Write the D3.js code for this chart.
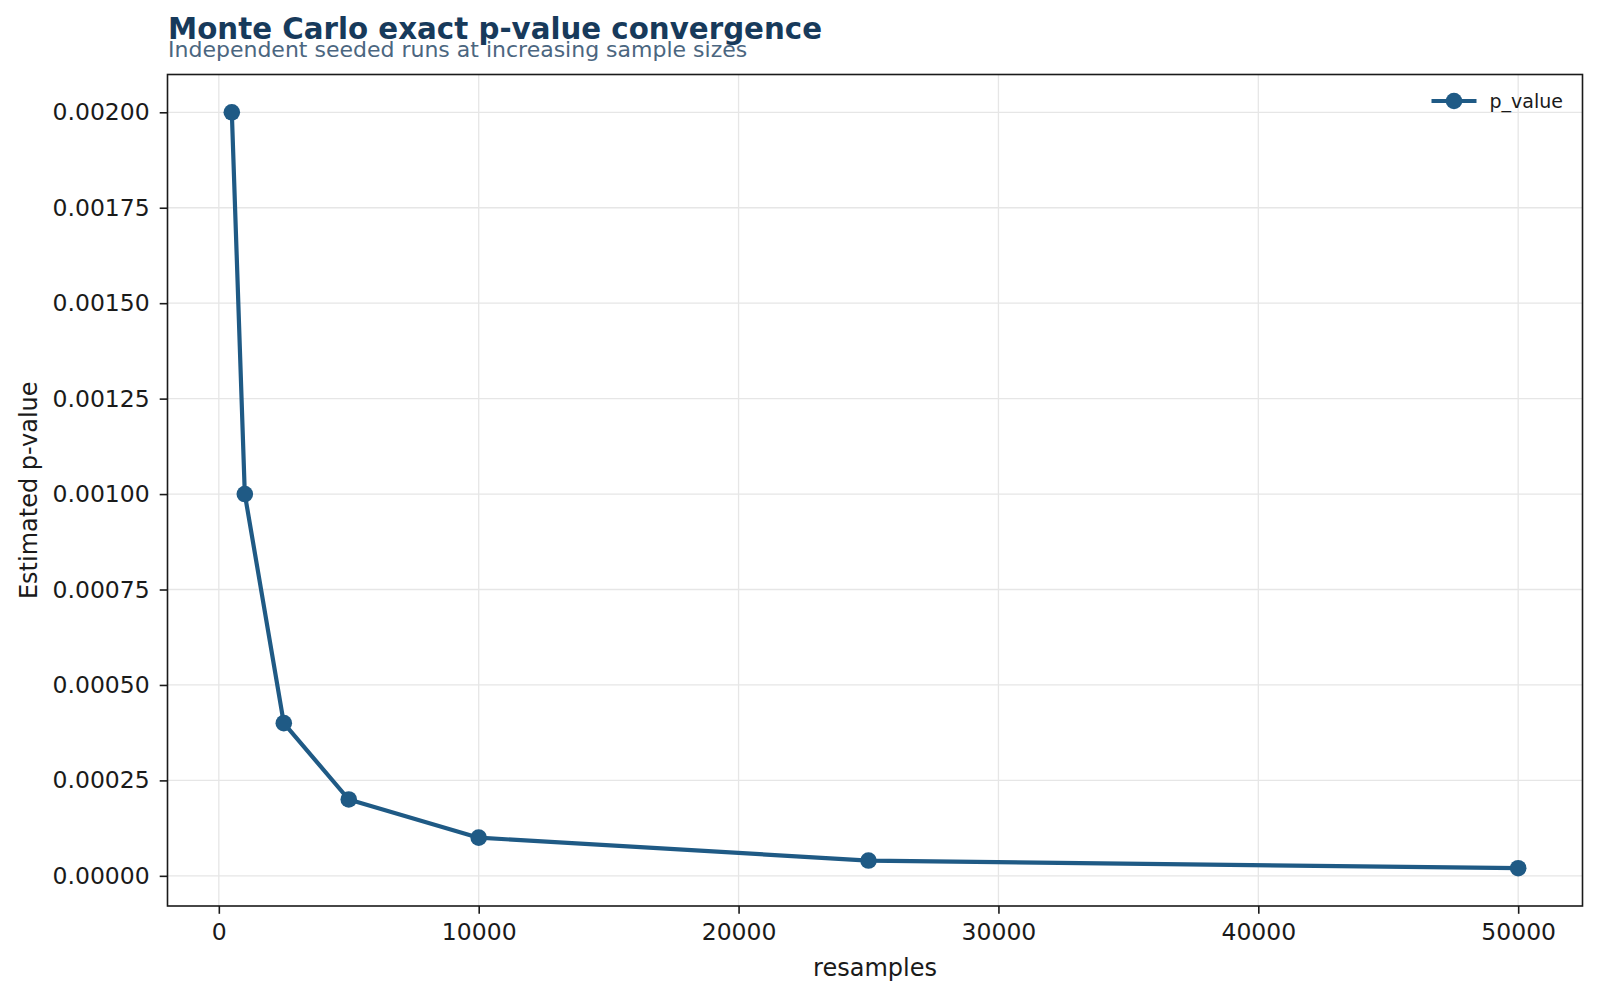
<!DOCTYPE html>
<html>
<head>
<meta charset="utf-8">
<script src="https://cdn.jsdelivr.net/npm/d3@7"></script>
<style>
  body { margin: 0; background: #fff; }
  svg { display: block; font-family: "DejaVu Sans", sans-serif; }
  .grid line { stroke: #e6e6e6; stroke-width: 1.3; }
  .axis path, .axis line { stroke: #1a1a1a; }
  .axis text { fill: #1a1a1a; font-size: 23.5px; font-family: "DejaVu Sans", sans-serif; }
</style>
</head>
<body>
<script>
(function (d3) {
  "use strict";

  /***** Data *****/
  var resamples = [500, 1000, 2500, 5000, 10000, 25000, 50000];
  var pValues = [0.002, 0.001, 0.0004, 0.0002, 0.0001, 0.00004, 0.00002];
  var xTicks = [0, 10000, 20000, 30000, 40000, 50000];
  var yTicks = [0, 0.00025, 0.0005, 0.00075, 0.001, 0.00125, 0.0015, 0.00175, 0.002];

  var data = resamples.map(function (r, i) { return { x: r, y: pValues[i] }; });

  /***** Configuration *****/
  var W = 1600, H = 998;
  var margin = { top: 74.5, right: 17.5, bottom: 92, left: 167.5 };
  var width = W - margin.left - margin.right;
  var height = H - margin.top - margin.bottom;
  var lineColor = "#1f5a85";

  // matplotlib style 5% margins
  var xr = d3.extent(resamples), yr = d3.extent(pValues);
  var xpad = (xr[1] - xr[0]) * 0.05, ypad = (yr[1] - yr[0]) * 0.05;

  var x = d3.scaleLinear().domain([xr[0] - xpad, xr[1] + xpad]).range([0, width]);
  var y = d3.scaleLinear().domain([yr[0] - ypad, yr[1] + ypad]).range([height, 0]);

  var svg = d3.select("body").append("svg")
    .attr("width", W)
    .attr("height", H);

  var g = svg.append("g")
    .attr("transform", "translate(" + margin.left + "," + margin.top + ")");

  /***** Grid *****/
  g.append("g").attr("class", "grid")
    .selectAll("line.gx").data(xTicks).enter().append("line")
    .attr("x1", function (d) { return x(d); })
    .attr("x2", function (d) { return x(d); })
    .attr("y1", 0).attr("y2", height);

  g.append("g").attr("class", "grid")
    .selectAll("line.gy").data(yTicks).enter().append("line")
    .attr("y1", function (d) { return y(d); })
    .attr("y2", function (d) { return y(d); })
    .attr("x1", 0).attr("x2", width);

  /***** Axes *****/
  var xAxis = d3.axisBottom(x).tickValues(xTicks).tickFormat(d3.format("d"))
    .tickSize(7.8).tickPadding(10).tickSizeOuter(0);
  var yAxis = d3.axisLeft(y).tickValues(yTicks).tickFormat(d3.format(".5f"))
    .tickSize(7.8).tickPadding(10).tickSizeOuter(0);

  g.append("g").attr("class", "axis")
    .attr("transform", "translate(0," + height + ")")
    .call(xAxis)
    .call(function (s) { s.select(".domain").remove(); s.selectAll("line").attr("stroke-width", 1.6); });

  g.append("g").attr("class", "axis")
    .call(yAxis)
    .call(function (s) { s.select(".domain").remove(); s.selectAll("line").attr("stroke-width", 1.6); });

  g.selectAll(".axis").attr("font-family", null).attr("font-size", null);

  // frame
  g.append("rect")
    .attr("width", width).attr("height", height)
    .attr("fill", "none").attr("stroke", "#1a1a1a").attr("stroke-width", 1.6);

  /***** Line and markers *****/
  var line = d3.line()
    .x(function (d) { return x(d.x); })
    .y(function (d) { return y(d.y); });

  g.append("path").datum(data)
    .attr("d", line)
    .attr("fill", "none")
    .attr("stroke", lineColor)
    .attr("stroke-width", 4.2)
    .attr("stroke-linejoin", "round");

  g.selectAll("circle.pt").data(data).enter().append("circle")
    .attr("class", "pt")
    .attr("cx", function (d) { return x(d.x); })
    .attr("cy", function (d) { return y(d.y); })
    .attr("r", 8.3)
    .attr("fill", lineColor);

  /***** Legend *****/
  var leg = g.append("g").attr("transform", "translate(" + (width - 151) + ",26.5)");
  leg.append("line").attr("x1", 0).attr("x2", 45).attr("y1", 0).attr("y2", 0)
    .attr("stroke", lineColor).attr("stroke-width", 4.2);
  leg.append("circle").attr("cx", 22.5).attr("cy", 0).attr("r", 8.3).attr("fill", lineColor);
  leg.append("text").attr("x", 58).attr("y", 0).attr("dy", "0.35em")
    .attr("font-size", 19).attr("fill", "#1a1a1a").text("p_value");

  /***** Labels *****/
  svg.append("text")
    .attr("x", margin.left + width / 2).attr("y", 976)
    .attr("text-anchor", "middle").attr("font-size", 24).attr("fill", "#1a1a1a")
    .text("resamples");

  svg.append("text")
    .attr("transform", "translate(37," + (margin.top + height / 2) + ") rotate(-90)")
    .attr("text-anchor", "middle").attr("font-size", 24).attr("fill", "#1a1a1a")
    .text("Estimated p-value");

  svg.append("text")
    .attr("x", 168).attr("y", 38.5)
    .attr("font-size", 29.3).attr("font-weight", "bold").attr("fill", "#173a5b")
    .text("Monte Carlo exact p-value convergence");

  svg.append("text")
    .attr("x", 168).attr("y", 56.5)
    .attr("font-size", 22).attr("fill", "#4b6680")
    .text("Independent seeded runs at increasing sample sizes");

})(d3);
</script>
</body>
</html>
